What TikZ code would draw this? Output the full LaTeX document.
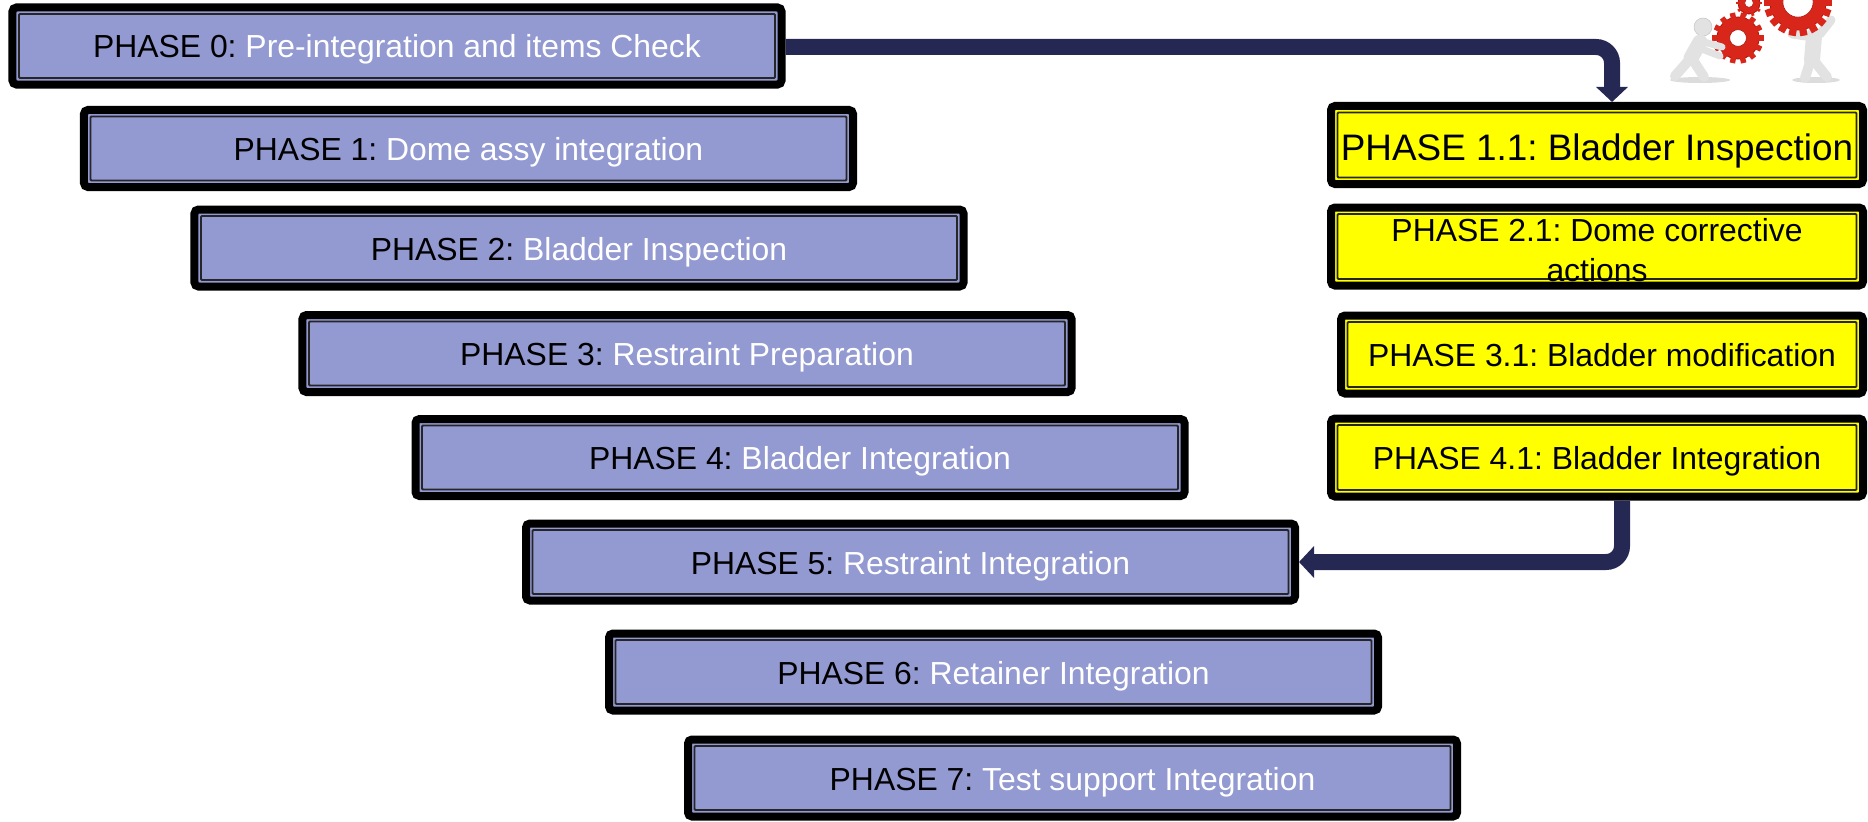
\documentclass[tikz,border=0pt]{standalone}
\usepackage{fontspec}
\setmainfont{Liberation Sans}
\usepackage{xcolor}
\usetikzlibrary{arrows.meta,positioning}
\definecolor{PhaseFill}{HTML}{9399D1}
\definecolor{PhaseYellow}{HTML}{FFFF00}
\definecolor{FlowNavy}{HTML}{262854}
\definecolor{GearRed}{HTML}{D8261A}
\definecolor{GearDark}{HTML}{A8140C}
\definecolor{FigureGrey}{HTML}{E2E2E2}
\definecolor{FigureShade}{HTML}{C4C4C4}
\frenchspacing

% black step name, white step title
\newcommand{\phasetext}[2]{\textcolor{black}{PHASE #1:} \textcolor{white}{#2}}

\begin{document}
\begin{tikzpicture}[x=1bp,y=-1bp,>=Latex,
  framed/.style={draw=black,line width=8bp,rounded corners=4bp,inner sep=0pt,
    font=\fontsize{32}{40}\selectfont,text height=24bp,text depth=0bp,
    path picture={\draw[line width=1.8bp,black!85,rounded corners=1bp]
      ([shift={(6.5bp,6.5bp)}]path picture bounding box.south west) rectangle
      ([shift={(-6.5bp,-6.5bp)}]path picture bounding box.north east);}},
  phasebox/.style={framed,fill=PhaseFill,minimum width=769bp,minimum height=77bp},
  fixbox/.style={framed,fill=PhaseYellow,minimum width=532bp,minimum height=78bp,align=center},
  flow/.style={FlowNavy,line width=16bp,rounded corners=16bp,
    -{Triangle[width=31bp,length=15bp]}},
  limb/.style={FigureGrey,line width=9bp,line cap=round}]
  \useasboundingbox (0,0) rectangle (1868,822);

  % main sequence, stepping down to the right
  \node[phasebox] (p0) at (397,46)    {\phasetext{0}{Pre-integration and items Check}};
  \node[phasebox] (p1) at (468.5,148.5) {\phasetext{1}{Dome assy integration}};
  \node[phasebox] (p2) at (579,248)   {\phasetext{2}{Bladder Inspection}};
  \node[phasebox] (p3) at (687,353.5) {\phasetext{3}{Restraint Preparation}};
  \node[phasebox] (p4) at (800,457.5) {\phasetext{4}{Bladder Integration}};
  \node[phasebox] (p5) at (910.5,562) {\phasetext{5}{Restraint Integration}};
  \node[phasebox] (p6) at (993.5,672) {\phasetext{6}{Retainer Integration}};
  \node[phasebox] (p7) at (1072.5,778) {\phasetext{7}{Test support Integration}};

  % side loop of corrective steps
  \node[fixbox,font=\fontsize{37}{44}\selectfont,text height=30bp]
    (p11) at (1597,145) {PHASE 1.1: Bladder Inspection};
  \node[fixbox,text height=69bp] (p21) at (1597,246.5) {PHASE 2.1: Dome corrective\\actions};
  \node[fixbox,minimum width=522bp] (p31) at (1602,354.5) {PHASE 3.1: Bladder modification};
  \node[fixbox] (p41) at (1597,457.5) {PHASE 4.1: Bladder Integration};

  \draw[flow] ([yshift=-1bp]p0.east) -| ([xshift=15bp]p11.north);
  \draw[flow] ([xshift=25bp]p41.south) |- (p5.east);

  % gears and the two little figures
  \begin{scope}
    \clip (1650,0) rectangle (1868,90);
    \fill[FigureShade!60] (1700,80) ellipse (30bp and 3bp);
    \fill[FigureShade!60] (1816,80) ellipse (24bp and 3bp);
    \draw[limb,line width=16bp] (1814,36) -- (1812,60);
    \draw[limb] (1806,36) -- (1792,34);
    \draw[limb] (1820,34) -- (1831,20);
    \draw[limb,line width=10bp] (1810,62) -- (1805,78);
    \draw[limb,line width=10bp] (1815,62) -- (1827,77);
    \foreach \gx/\gy/\gr/\gn/\gh in {1798/2/28/18/0.54,1749/3/11/10/0.4,1738/38/21/14/0.4}{
      \begin{scope}[shift={(\gx,\gy)}]
        \fill[GearRed,draw=GearDark,line width=0.8bp] (0,0) circle (\gr bp);
        \foreach \a in {1,...,\gn}
          \fill[GearRed,rotate=\a*360/\gn]
            (0.9*\gr,-0.13*\gr) rectangle (1.22*\gr,0.13*\gr);
        \fill[white,draw=GearDark,line width=0.6bp] (0,0) circle (\gh*\gr bp);
      \end{scope}
    }
    \fill[FigureGrey,draw=FigureShade,line width=0.5bp] (1703,27) circle (9bp);
    \draw[limb,line width=15bp] (1700,42) -- (1691,58);
    \draw[limb,line width=7bp] (1704,42) -- (1722,47);
    \draw[limb,line width=7bp] (1699,48) -- (1720,56);
    \draw[limb,line width=10bp] (1690,59) -- (1675,76);
    \draw[limb,line width=10bp] (1693,60) -- (1704,77);
  \end{scope}
\end{tikzpicture}
\end{document}
